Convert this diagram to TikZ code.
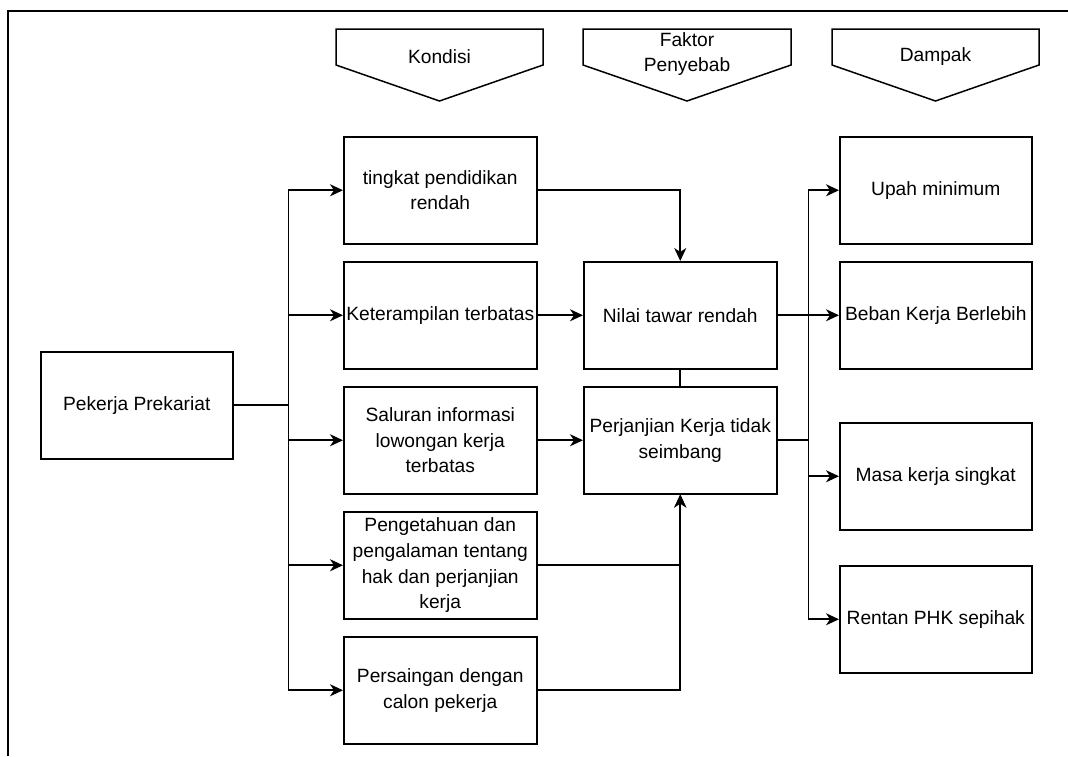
\documentclass[tikz,border=0pt]{standalone}
\usepackage{fontspec}
\setmainfont{Liberation Sans}
\usetikzlibrary{arrows.meta}
\begin{document}
\begin{tikzpicture}[x=1pt,y=-1pt,
  txt/.style={font=\fontsize{19.2}{25.7}\selectfont, align=center, inner sep=0pt},
  box/.style={txt, draw, line width=1.5pt, minimum width=193pt, minimum height=107pt, anchor=north west},
  pent/.style={draw, line width=1.5pt, line join=miter},
  conn/.style={line width=1.7pt},
  arr/.style={conn, -{Stealth[length=13pt,width=12pt,inset=4pt]}}]
\useasboundingbox (0,0) rectangle (1068,756);
% frame
\draw[line width=1.5pt] (8,756) -- (8,11) -- (1068,11);
% header pentagons
\draw[pent] (336,29) -- (543,29) -- (543,65) -- (439.5,101) -- (336,65) -- cycle;
\node[txt] (hkond) at (439.5,57) {Kondisi};
\draw[pent] (583,29) -- (791,29) -- (791,65) -- (687,101) -- (583,65) -- cycle;
\node[txt] (hfak) at (687,54) {Faktor\\Penyebab};
\draw[pent] (832,29) -- (1039,29) -- (1039,65) -- (935.5,101) -- (832,65) -- cycle;
\node[txt] (hdam) at (935.5,57) {Dampak};
% boxes
\node[box, minimum width=192pt] (pek) at (40,351) {Pekerja Prekariat};
\node[box] (ting) at (343,136) {tingkat pendidikan\\rendah};
\node[box] (ket) at (343,261) {Keterampilan terbatas};
\node[box] (sal) at (343,386) {Saluran informasi\\lowongan kerja\\terbatas};
\node[box] (peng) at (343,511) {Pengetahuan dan\\pengalaman tentang\\hak dan perjanjian\\kerja};
\node[box] (pers) at (343,636) {Persaingan dengan\\calon pekerja};
\node[box] (nilai) at (583,261) {Nilai tawar rendah};
\node[box] (perj) at (583,386) {Perjanjian Kerja tidak\\seimbang};
\node[box, minimum width=192pt] (upah) at (839,136) {Upah minimum};
\node[box, minimum width=192pt] (beban) at (839,261) {Beban Kerja Berlebih};
\node[box, minimum width=192pt] (masa) at (839,422) {Masa kerja singkat};
\node[box, minimum width=192pt] (rentan) at (839,565) {Rentan PHK sepihak};
% connectors from Pekerja Prekariat
\draw[arr] (pek.east) -- ++(55,0) |- (ting.west);
\draw[arr] (pek.east) -- ++(55,0) |- (ket.west);
\draw[arr] (pek.east) -- ++(55,0) |- (sal.west);
\draw[arr] (pek.east) -- ++(55,0) |- (peng.west);
\draw[arr] (pek.east) -- ++(55,0) |- (pers.west);
% to factors
\draw[arr] (ting.east) -| (nilai.north);
\draw[arr] (ket.east) -- (nilai.west);
\draw[arr] (sal.east) -- (perj.west);
\draw[arr] (peng.east) -| (perj.south);
\draw[arr] (pers.east) -| (perj.south);
\draw[conn] (nilai.south) -- (perj.north);
% to impacts
\draw[arr] (nilai.east) -- (beban.west);
\draw[arr] (perj.east) -- ++(31,0) |- (upah.west);
\draw[arr] (perj.east) -- ++(31,0) |- (masa.west);
\draw[arr] (perj.east) -- ++(31,0) |- (rentan.west);
\end{tikzpicture}
\end{document}
